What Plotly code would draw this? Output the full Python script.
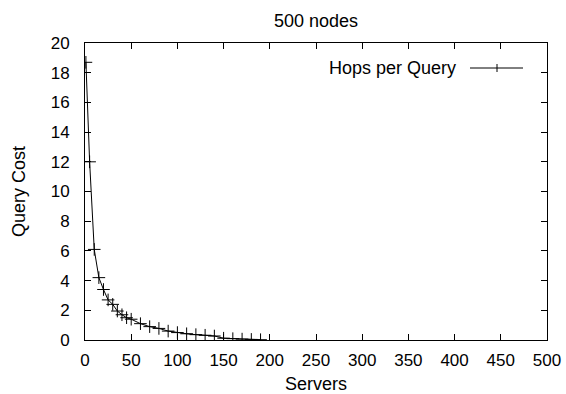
import plotly.graph_objects as go

servers = [1, 5, 10, 15, 20, 25, 30, 35, 40, 45, 50, 60, 70, 80, 90, 100,
           110, 120, 130, 140, 150, 160, 170, 180, 190]
hops = [18.7, 12.0, 6.1, 4.2, 3.4, 2.7, 2.4, 1.95, 1.7, 1.5, 1.4, 1.1, 0.9,
        0.78, 0.6, 0.5, 0.42, 0.36, 0.32, 0.27, 0.12, 0.09, 0.06, 0.04, 0.02]

series_name = "Hops per Query"
title_text = "500 nodes"
x_title = "Servers"
y_title = "Query Cost"

FONT = "Liberation Sans, Arial, Helvetica, sans-serif"
L, R, T, B = 85, 547, 43, 340
PW, PH = R - L, B - T

fig = go.Figure()
fig.add_trace(go.Scatter(
    x=servers, y=hops, mode="lines+markers", name=series_name,
    line=dict(color="black", width=1),
    marker=dict(symbol="cross-thin", size=9, line=dict(color="black", width=1)),
    showlegend=False,
))

axis_common = dict(
    showline=True, linecolor="black", linewidth=1, mirror="allticks",
    ticks="inside", ticklen=6, tickcolor="black", tickwidth=1,
    showgrid=False, zeroline=False, automargin=False,
    tickfont=dict(family=FONT, size=17, color="black"),
)

fig.update_layout(
    width=566, height=394,
    margin=dict(l=L, r=566 - R, t=T, b=394 - B),
    paper_bgcolor="white", plot_bgcolor="white",
    title=dict(text=title_text, x=(L + PW / 2) / 566, xanchor="center",
               y=1 - 21 / 394, yanchor="middle", xref="container",
               font=dict(family=FONT, size=18, color="black")),
    xaxis=dict(range=[0, 500], dtick=50, tick0=0, ticklabelstandoff=5,
               title=dict(text=x_title, standoff=9,
                          font=dict(family=FONT, size=18, color="black")),
               **axis_common),
    yaxis=dict(range=[0, 20], dtick=2, tick0=0, ticklabelstandoff=11,
               title=dict(text=y_title, standoff=20,
                          font=dict(family=FONT, size=18, color="black")),
               **axis_common),
    showlegend=False,
)

# gnuplot-style legend: text on the left, sample line with marker on the right
leg_y = (B - 68) / PH
fig.add_annotation(
    xref="paper", yref="paper", x=(458 - L) / PW, y=leg_y,
    text=series_name, showarrow=False, xanchor="right", yanchor="middle",
    font=dict(family=FONT, size=18, color="black"),
)
fig.add_shape(type="line", xref="paper", yref="paper",
              x0=(470 - L) / PW, x1=(523 - L) / PW, y0=leg_y, y1=leg_y,
              line=dict(color="black", width=1))
fig.add_shape(type="line", xref="paper", yref="paper",
              x0=(497 - L) / PW, x1=(497 - L) / PW,
              y0=(B - 72) / PH, y1=(B - 64) / PH,
              line=dict(color="black", width=1))

fig.write_html("out.html", config={"displayModeBar": False},
               post_script="document.body.style.margin='0';document.body.style.overflow='hidden';")
